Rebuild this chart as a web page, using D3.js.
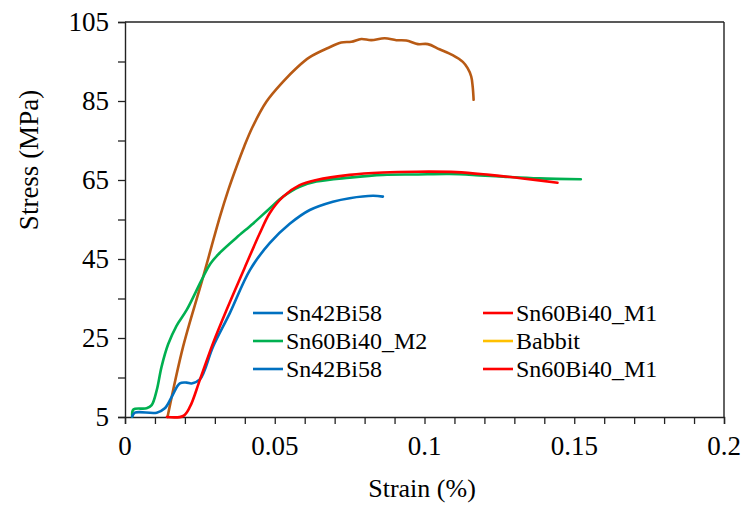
<!DOCTYPE html>
<html>
<head>
<meta charset="utf-8">
<script src="https://cdn.jsdelivr.net/npm/d3@7"></script>
<style>
html,body{margin:0;padding:0;background:#fff;}
svg{display:block;}
</style>
</head>
<body>
<svg id="chart" width="742" height="506"></svg>
<script>
// ---- data ----
const xTickValues = [0, 0.05, 0.1, 0.15, 0.2];
const xTickLabels = ["0", "0.05", "0.1", "0.15", "0.2"];
const yTickValues = [5, 25, 45, 65, 85, 105];
const yTickLabels = ["5", "25", "45", "65", "85", "105"];

const babbitStrain = [0.0142,0.0194,0.0258,0.0317,0.0345,0.0372,0.0398,0.0425,0.0472,0.0528,0.0572,0.0617,0.0683,0.0722,0.0756,0.0789,0.0822,0.0867,0.0906,0.0939,0.0978,0.1011,0.105,0.1094,0.1128,0.1144,0.1156,0.1161,0.1164];
const babbitStress = [5,22.8,39.7,55.7,62.5,68.3,73.5,78.3,84.8,89.9,93.3,96.1,98.6,99.8,100.0,100.7,100.4,100.9,100.4,100.3,99.4,99.4,98.1,96.6,94.9,93.3,91.2,88.6,85.3];

const m2Strain = [0.0024,0.0028,0.0072,0.0089,0.0106,0.0122,0.0144,0.0172,0.0206,0.0256,0.0285,0.0317,0.0372,0.0428,0.0483,0.0528,0.0583,0.0639,0.075,0.0861,0.0972,0.1083,0.1161,0.1272,0.1383,0.1522];
const m2Stress = [5.1,6.9,7.2,8.0,11.8,17.7,23.4,28.1,32.1,39.7,43.8,46.6,50.4,54.0,57.8,60.8,63.3,64.6,65.6,66.3,66.4,66.5,66.3,65.8,65.4,65.2];

const m1Strain = [0.014,0.0194,0.0217,0.025,0.0294,0.0339,0.0406,0.045,0.0483,0.0528,0.0583,0.0639,0.075,0.0861,0.0972,0.1106,0.1217,0.1328,0.1444];
const m1Stress = [5,5.25,7.6,14.4,23.7,32.1,43.9,51.5,56.6,60.8,63.7,65.0,66.3,66.9,67.1,67.0,66.3,65.4,64.3];

const snbiStrain = [0.0024,0.0033,0.0106,0.0133,0.0156,0.0183,0.0206,0.0222,0.025,0.0294,0.035,0.0417,0.0483,0.055,0.0617,0.0694,0.075,0.0828,0.0861];
const snbiStress = [5.1,6.1,6.1,7.2,10.1,13.5,13.7,13.5,14.5,22.8,31.3,42.2,49.0,53.9,57.4,59.5,60.4,61.0,60.8];

const legendNames = ["Sn42Bi58","Sn60Bi40_M1","Sn60Bi40_M2","Babbit","Sn42Bi58","Sn60Bi40_M1"];
const legendColors = ["#0070C0","#FF0000","#00B050","#FFC000","#0070C0","#FF0000"];

const series = [
  {x: babbitStrain, y: babbitStress, color: "#B85A14"},
  {x: m2Strain, y: m2Stress, color: "#00B050"},
  {x: snbiStrain, y: snbiStress, color: "#0070C0"},
  {x: m1Strain, y: m1Stress, color: "#FF0000"}
];

// ---- layout ----
const FONT = "Liberation Serif, Tinos, Times New Roman, Nimbus Roman, DejaVu Serif, serif";
const svg = d3.select("#chart").style("font-family", FONT);
const L = 125, R = 724, T = 22, B = 417;
const x = d3.scaleLinear().domain([0, 0.2]).range([L, R]);
const y = d3.scaleLinear().domain([5, 105]).range([B, T]);
const axisColor = "#222";

// frame top/right
svg.append("line").attr("x1", L).attr("x2", R).attr("y1", T).attr("y2", T).attr("stroke", axisColor).attr("stroke-width", 1.4);
svg.append("line").attr("x1", R).attr("x2", R).attr("y1", T).attr("y2", B).attr("stroke", axisColor).attr("stroke-width", 1.4);

// x axis
const xAxis = d3.axisBottom(x).tickValues(d3.range(0, 21).map(i => i / 100)).tickSize(7).tickFormat("");
const gx = svg.append("g").attr("transform", `translate(0,${B})`).call(xAxis);
gx.select(".domain").attr("stroke", axisColor).attr("stroke-width", 1.4);
gx.selectAll(".tick line").attr("stroke", axisColor).attr("stroke-width", 1.3);
svg.selectAll(".xlab").data(xTickValues).enter().append("text")
  .style("font-family", FONT).attr("fill", "#000")
  .attr("x", d => x(d)).attr("y", 455).attr("text-anchor", "middle")
  .attr("font-size", 27).text((d, i) => xTickLabels[i]);

// y axis
const yAxis = d3.axisLeft(y).tickValues(d3.range(0, 11).map(i => 5 + i * 10)).tickSize(7).tickFormat("");
const gy = svg.append("g").attr("transform", `translate(${L},0)`).call(yAxis);
gy.select(".domain").attr("stroke", axisColor).attr("stroke-width", 1.4);
gy.selectAll(".tick line").attr("stroke", axisColor).attr("stroke-width", 1.3);
svg.selectAll(".ylab").data(yTickValues).enter().append("text")
  .style("font-family", FONT).attr("fill", "#000")
  .attr("x", 109).attr("y", d => y(d)).attr("dy", "0.35em").attr("text-anchor", "end")
  .attr("font-size", 27).text((d, i) => yTickLabels[i]);

// axis titles
svg.append("text").style("font-family", FONT).attr("x", 422).attr("y", 497).attr("text-anchor", "middle").attr("font-size", 26).text("Strain (%)");
svg.append("text").style("font-family", FONT).attr("transform", "translate(38,160) rotate(-90)").attr("text-anchor", "middle").attr("font-size", 27).text("Stress (MPa)");

// curves
const line = d3.line().x(d => x(d[0])).y(d => y(d[1])).curve(d3.curveCatmullRom.alpha(0.5));
series.forEach(s => {
  const pts = s.x.map((v, i) => [v, s.y[i]]);
  svg.append("path").datum(pts).attr("d", line).attr("fill", "none")
    .attr("stroke", s.color).attr("stroke-width", 2.6).attr("stroke-linejoin", "round").attr("stroke-linecap", "round");
});

// legend
const legX = [253, 483], legY = [313, 341, 369];
legendNames.forEach((name, i) => {
  const col = i % 2, row = Math.floor(i / 2);
  const g = svg.append("g").attr("transform", `translate(${legX[col]},${legY[row]})`);
  g.append("line").attr("x1", 0).attr("x2", 30).attr("y1", 0).attr("y2", 0).attr("stroke", legendColors[i]).attr("stroke-width", 2.6);
  g.append("text").style("font-family", FONT).attr("x", 33).attr("y", 0).attr("dy", "0.35em").attr("font-size", 24).text(name);
});
</script>
</body>
</html>
